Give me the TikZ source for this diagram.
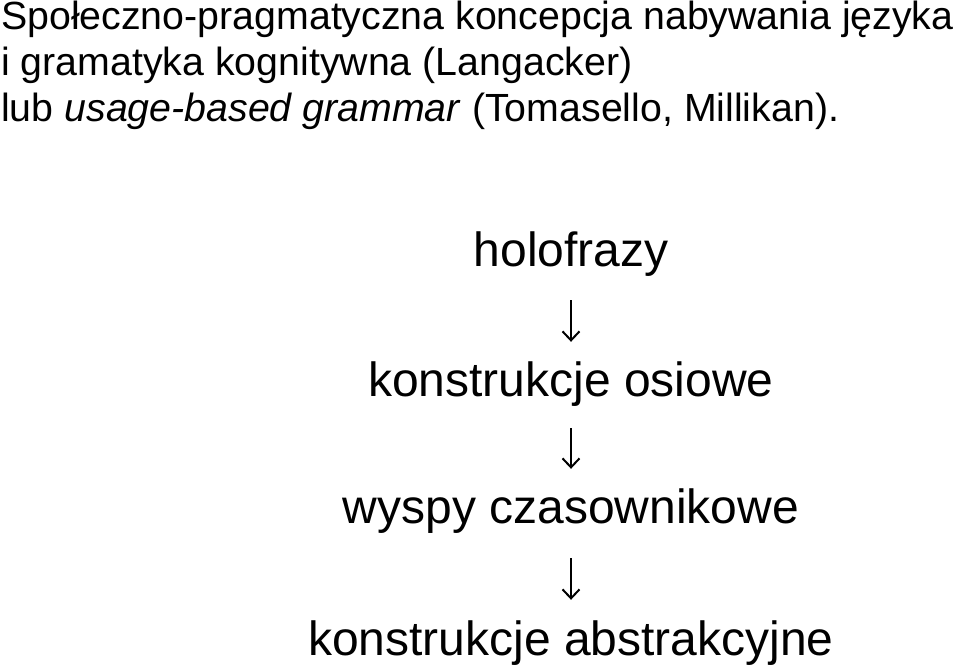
\documentclass[tikz,border=0pt]{standalone}
\usepackage{fontspec}
\setmainfont{Liberation Sans}
\usetikzlibrary{arrows.meta}
\tikzset{
  titleline/.style={anchor=base west, inner sep=0pt, font=\fontsize{39.3}{46}\selectfont},
  stage/.style={anchor=base, inner sep=0pt, text height=35pt, text depth=10pt, font=\fontsize{48}{56}\selectfont},
  stagearrow/.style={line width=2pt, -{Straight Barb[length=9pt,width=17pt,line width=2pt]}}
}
\begin{document}
\begin{tikzpicture}[x=1pt,y=1pt]
\useasboundingbox (0,0) rectangle (960,667);
\node[titleline] (t1) at (1,637) {Społeczno-pragmatyczna koncepcja nabywania języka};
\node[titleline] (t2) at (1,591) {i gramatyka kognitywna (Langacker)};
\node[titleline] (t3) at (1,545) {lub \textit{usage-based grammar} (Tomasello, Millikan).};
\node[stage] (s1) at (571,400) {holofrazy};
\node[stage] (s2) at (571,270) {konstrukcje osiowe};
\node[stage] (s3) at (571,144) {wyspy czasownikowe};
\node[stage] (s4) at (571,12) {konstrukcje abstrakcyjne};
\draw[stagearrow, shorten <=23pt, shorten >=20pt] (s1) -- (s2);
\draw[stagearrow, shorten <=21pt, shorten >=19pt] (s2) -- (s3);
\draw[stagearrow, shorten <=25pt, shorten >=20pt] (s3) -- (s4);
\end{tikzpicture}
\end{document}
